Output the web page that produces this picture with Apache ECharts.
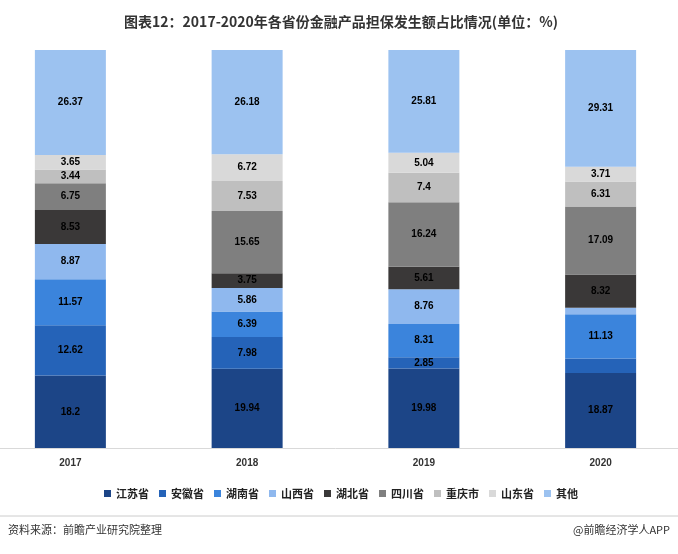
<!DOCTYPE html><html><head><meta charset="utf-8"><script src="https://cdn.jsdelivr.net/npm/echarts@6/dist/echarts.min.js"></script>
<style>body{margin:0;background:#fff;overflow:hidden}#c{width:718px;height:554px;margin-left:-18px}</style></head><body><div id="c"></div><script>
const years=['2017','2018','2019','2020'];
const provinces=['江苏省','安徽省','湖南省','山西省','湖北省','四川省','重庆市','山东省','其他'];
const jiangsu=[18.2,19.94,19.98,18.87];
const anhui=[12.62,7.98,2.85,3.6];
const hunan=[11.57,6.39,8.31,11.13];
const shanxi=[8.87,5.86,8.76,1.66];
const hubei=[8.53,3.75,5.61,8.32];
const sichuan=[6.75,15.65,16.24,17.09];
const chongqing=[3.44,7.53,7.4,6.31];
const shandong=[3.65,6.72,5.04,3.71];
const other=[26.37,26.18,25.81,29.31];
const hiddenLabels={'安徽省':[3],'山西省':[3]};
const vals=[jiangsu,anhui,hunan,shanxi,hubei,sichuan,chongqing,shandong,other];
const colors=['#1c4587','#2563b8','#3b84dc','#8fb8ee','#3a3838','#7f7f7f','#bfbfbf','#d9d9d9','#9cc2f0'];
const ch=echarts.init(document.getElementById('c'));
ch.setOption({
title:{text:'图表12：2017-2020年各省份金融产品担保发生额占比情况(单位：%)',left:'center',top:10,textStyle:{fontSize:14,fontWeight:'bold',color:'#333',fontFamily:'Noto Sans CJK SC'}},
grid:{left:0,right:11,top:50,bottom:106,containLabel:false},
legend:{bottom:50,itemWidth:7,itemHeight:7,itemGap:10,icon:'rect',textStyle:{fontSize:11,fontWeight:'bold',color:'#222',fontFamily:'Noto Sans CJK SC'},data:provinces},
xAxis:{type:'category',data:years,axisLine:{lineStyle:{color:'#d9d9d9'}},axisTick:{show:false},axisLabel:{color:'#333',fontWeight:'bold',fontSize:10,margin:10}},
yAxis:{type:'value',min:0,max:100,show:false},
series:vals.map((v,i)=>({name:provinces[i],type:'bar',stack:'s',barWidth:71,color:colors[i],
 data:v.map((x,j)=>({value:x,label:{show:!(hiddenLabels[provinces[i]]||[]).includes(j)}})),
 label:{show:true,position:'inside',color:'#000',fontSize:10,fontWeight:'bold'}})),
graphic:[
{type:'line',shape:{x1:18,y1:516,x2:718,y2:516},style:{stroke:'#ccc',lineWidth:1}},
{type:'text',left:26,top:524,style:{text:'资料来源：前瞻产业研究院整理',fontSize:11,fill:'#333',fontFamily:'Noto Sans CJK SC'}},
{type:'text',right:30,top:524,style:{text:'@前瞻经济学人APP',fontSize:11,fill:'#333',fontFamily:'Noto Sans CJK SC'}}
]
});
</script></body></html>
